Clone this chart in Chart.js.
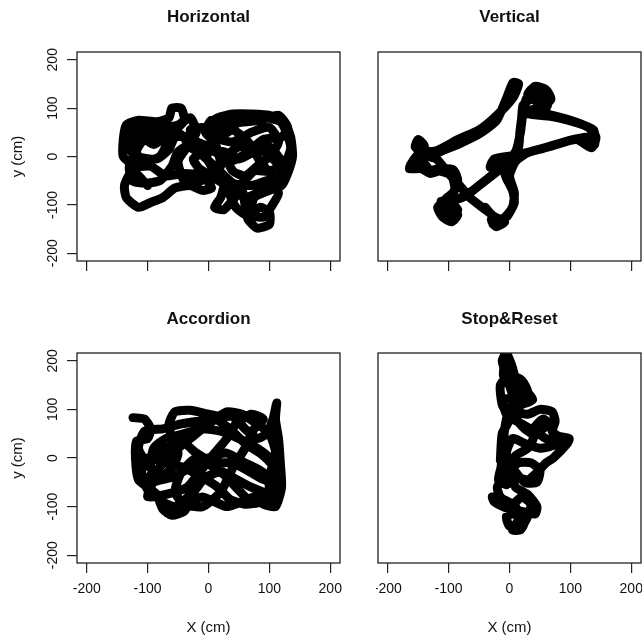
<!DOCTYPE html>
<html>
<head>
<meta charset="utf-8">
<script src="https://cdn.jsdelivr.net/npm/chart.js@4.4.1/dist/chart.umd.min.js"></script>
<style>
  html, body { margin: 0; padding: 0; background: #fff; }
  body { width: 642px; height: 639px; position: relative; overflow: hidden; }
  canvas { position: absolute; }
</style>
</head>
<body>
<canvas id="horizontal" width="345" height="300" style="left:0;top:0"></canvas>
<canvas id="vertical" width="266" height="300" style="left:376px;top:0"></canvas>
<canvas id="accordion" width="345" height="339" style="left:0;top:300px"></canvas>
<canvas id="stopreset" width="266" height="339" style="left:376px;top:300px"></canvas>
<script>
// tick labels (cm)
const xTicks = [-200, -100, 0, 100, 200];
const yTicks = [-200, -100, 0, 100, 200];

// trajectories (cm)
const horizontalX = [-100,-125,-138,-135,-115,-95,-75,-55,-30,-10,5,-10,-40,-70,-95,-120,-140,-140,-135,-115,-85,-65,-60,-45,-40,-55,-85,-110,-120,-115,-85,-65,-55,-30,-10,0,15,25,20,10,25,40,55,60,65,80,100,100,85,70,75,100,120,130,138,135,125,100,70,40,15,0,10,40,70,100,115,100,80,60,40,30,50,80,110,120,95,70,40,10,-15,-30,-10,20,50,85,115,130,120,90,60,35,5,-20,-50,-60,-80,-105,
  -125,-130,-110,-90,-70,-80,-105,-130,-125,-100,-75,-50,-30,-20,-35,-50,-40,-20,0,20,10,-5,5,30,60,95,120,135,125,100,75,55,35,45,60,90,105,115,100,80,60,30,10,-15,-25,-5,25,50,75,100,120,128,110,85,65,40,20,0,-25,-45,-65,-90,-110,-130];
const horizontalY = [-60,-30,-60,-85,-105,-95,-85,-65,-60,-70,-65,-40,-35,-40,-20,-20,0,35,65,75,72,80,100,100,75,55,50,50,25,0,-5,15,40,40,20,-10,-40,-60,-85,-105,-110,-90,-70,-100,-130,-148,-140,-115,-105,-115,-85,-70,-60,-35,0,40,70,85,88,88,80,65,40,30,50,60,30,0,-20,-40,-30,0,20,20,-10,-40,-50,-60,-55,-20,10,55,60,55,70,75,85,60,40,35,5,-10,15,30,10,-20,-50,-55,
  -50,-20,30,40,25,0,-10,15,55,60,60,65,80,50,20,-10,-50,-55,-40,-20,30,50,75,70,78,80,70,20,-15,-30,-30,-55,-75,-105,-120,-125,-100,-75,-55,-75,-85,-60,-45,-25,-5,10,10,-5,10,20,-10,-40,-45,-10,30,55,40,25,15,45,45,25,40,40];

const verticalX = [-152,-135,-163,-140,-131,-110,-92,-85,-95,-110,-105,-95,-85,-95,-80,-60,-40,-20,5,15,17,20,22,30,50,65,60,40,28,50,72,110,138,140,127,95,50,6,-25,-32,-15,-5,5,8,-5,-27,-25,-45,-65,-85,-100,-120,-131,-110,-81,-48,-21,-5,6,15,5,-25,-50,-85,-120,-145,
  -155,-150,-140,-158,-165,-145,-130,-115,-95,-90,-105,-118,-110,-95,-85,-100,-112,-90,-70,-45,-15,10,18,22,28,45,62,48,30,42,60,68,50,30,60,100,130,142,135,110,70,30,10,0,8,5,-10,-30,-22,-8,-28,-40];
const verticalY = [27,10,-21,-15,-28,-25,-28,-50,-80,-95,-118,-128,-110,-95,-85,-70,-50,-30,-5,20,50,80,105,115,130,125,100,95,89,85,82,70,55,25,40,32,15,2,-5,-22,-15,-45,-70,-95,-125,-140,-125,-105,-85,-55,-35,-5,0,12,27,48,75,120,153,150,120,80,55,35,12,10,
  20,35,22,-8,-25,-25,-35,-30,-40,-70,-88,-105,-125,-135,-120,-105,-92,-90,-80,-55,-25,10,50,90,120,135,128,112,128,145,138,118,100,95,88,75,60,40,18,35,22,8,-10,-40,-75,-105,-128,-130,-145,-135,-122,-105];

const accordionX = [-124,-105,-95,-100,-118,-120,-115,-100,-85,-75,-60,-40,-30,-10,10,30,55,75,90,110,120,118,115,110,112,106,95,80,60,40,20,0,-30,-55,-65,-60,-50,-60,-80,-95,-90,-70,-40,-10,20,50,80,100,110,95,70,40,10,-20,-45,-55,-40,-10,20,40,60,75,90,70,45,30,10,-15,-35,-70,-100,-90,-60,-30,0,30,60,90,100,85,
  60,35,15,-10,-40,-70,-100,-110,-100,-75,-55,-25,-5,20,45,70,100,115,105,85,60,35,10,-20,-45,-75,-105,-115,-100,-70,-40,-20,10,40,70,95,110,100,80,55,30,0,-30,-60,-85,-110];
const accordionY = [83,80,60,40,35,0,-45,-60,-75,-105,-118,-110,-90,-80,-90,-100,-90,-80,-95,-100,-60,-10,40,80,113,80,50,40,60,85,85,90,98,95,70,40,10,-20,-40,-20,20,40,50,60,55,40,20,0,-40,-70,-60,-40,-20,0,-30,-70,-95,-100,-70,-20,20,60,80,90,70,40,10,-30,-60,-75,-80,-50,-40,-20,0,10,-10,-30,-60,-90,
  -95,-85,-60,-40,-20,-10,0,-30,-65,-90,-100,-70,-40,-30,-60,-90,-85,-50,-15,10,30,60,80,75,70,60,55,20,-10,20,30,10,-10,-10,-30,-45,10,50,70,90,95,70,40,10,-25,-50];

const stopResetX = [-8,-8,-10,0,25,38,20,0,-8,-10,-14,-18,-5,10,30,45,60,72,95,98,80,70,75,70,50,30,15,5,-5,-12,-5,5,10,5,12,25,40,30,10,0,10,30,45,42,20,0,-25,-28,-10,10,15,5,18,25,10,-5,0,
  20,30,35,20,5,-15,-20,-5,15,35,50,45,25,5,-5,5,25,50,70,85,60,40,55,65,45,20,-5,-10,10,30,20,0,-15,-12,0,-12,-15];
const stopResetY = [240,200,170,150,140,120,110,100,60,20,-20,-45,-55,-40,-45,-30,-10,0,30,40,45,55,75,95,100,90,95,130,170,200,215,185,150,110,80,60,45,20,5,-20,-60,-75,-100,-115,-110,-105,-90,-80,-85,-100,-125,-148,-148,-130,-115,-120,-140,
  -140,-120,-95,-80,-95,-80,-60,-30,-10,-10,-25,-50,-50,-20,10,40,30,20,25,35,40,60,80,70,55,70,90,120,125,135,160,170,150,110,80,50,-5];

const FONT = "'Liberation Sans', Arial, sans-serif";

// box round the plot region, like R's box()
const frame = {
  id: 'frame',
  afterDraw(chart) {
    const a = chart.chartArea, ctx = chart.ctx;
    ctx.save();
    ctx.strokeStyle = '#222';
    ctx.lineWidth = 1.3;
    ctx.strokeRect(a.left, a.top, a.right - a.left, a.bottom - a.top);
    ctx.restore();
  }
};

function makePanel(id, title, xs, ys, opt) {
  const points = xs.map((x, i) => ({ x: x, y: ys[i] }));
  new Chart(document.getElementById(id), {
    type: 'scatter',
    data: {
      datasets: [{
        data: points,
        showLine: true,
        borderColor: '#000',
        borderWidth: 9,
        pointRadius: 0,
        tension: 0.2,
        borderJoinStyle: 'round',
        borderCapStyle: 'round',
        clip: 0
      }]
    },
    options: {
      responsive: false,
      animation: false,
      layout: { padding: { left: opt.left ? 0 : 2, right: opt.left ? 5 : 1, top: 0, bottom: 0 } },
      plugins: {
        legend: { display: false },
        tooltip: { enabled: false },
        title: {
          display: true, text: title, fullSize: false, color: '#111',
          font: { family: FONT, size: 17, weight: 'bold' },
          padding: { top: opt.titleTop, bottom: opt.titleBottom }
        }
      },
      scales: {
        x: {
          type: 'linear', min: -216, max: 216,
          afterBuildTicks: s => { s.ticks = xTicks.map(v => ({ value: v })); },
          afterFit: s => { s.height = opt.xh; s.paddingLeft = 0; s.paddingRight = 0; },
          grid: { drawOnChartArea: false, tickLength: 10, color: '#222', lineWidth: 1.2 },
          border: { display: false },
          ticks: { display: opt.bottom, autoSkip: false, color: '#111', font: { family: FONT, size: 14 }, padding: 8, maxRotation: 0 },
          title: { display: opt.bottom, text: 'X (cm)', color: '#111', font: { family: FONT, size: 15 }, padding: { top: 0, bottom: 2 } }
        },
        y: {
          type: 'linear', min: -216, max: 216, display: opt.left,
          afterBuildTicks: s => { s.ticks = yTicks.map(v => ({ value: v })); },
          afterFit: s => { if (opt.left) s.width = 77; s.paddingTop = 0; s.paddingBottom = 0; },
          grid: { drawOnChartArea: false, tickLength: 10, color: '#222', lineWidth: 1.2 },
          border: { display: false },
          ticks: { autoSkip: false, color: '#111', font: { family: FONT, size: 14 }, padding: 0, minRotation: 90, maxRotation: 90, crossAlign: 'center' },
          title: { display: true, text: 'y (cm)', color: '#111', font: { family: FONT, size: 15 }, padding: { top: 9, bottom: 0 } }
        }
      }
    },
    plugins: [frame]
  });
}

makePanel('horizontal', 'Horizontal', horizontalX, horizontalY, { left: true, bottom: false, xh: 39, titleTop: 6.8, titleBottom: 24.8 });
makePanel('vertical', 'Vertical', verticalX, verticalY, { left: false, bottom: false, xh: 39, titleTop: 6.8, titleBottom: 24.8 });
makePanel('accordion', 'Accordion', accordionX, accordionY, { left: true, bottom: true, xh: 76, titleTop: 8.8, titleBottom: 23.8 });
makePanel('stopreset', 'Stop&Reset', stopResetX, stopResetY, { left: false, bottom: true, xh: 76, titleTop: 8.8, titleBottom: 23.8 });
</script>
</body>
</html>
